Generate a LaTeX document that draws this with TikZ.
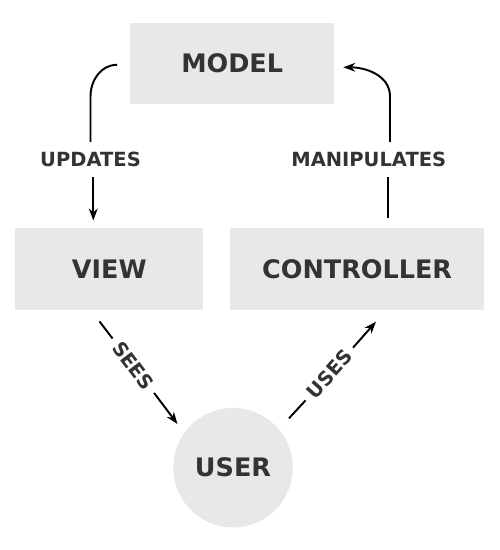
\documentclass[tikz,border=0pt]{standalone}
\usepackage{fontspec}
\setmainfont{DejaVu Sans}
\usepackage{tikz}
\usetikzlibrary{positioning,arrows.meta}
\definecolor{mvcfill}{HTML}{E8E8E8}
\definecolor{mvctext}{HTML}{333333}

\begin{document}
\begin{tikzpicture}[
	part/.style = {rectangle, fill=mvcfill, text=mvctext, inner sep=0pt, minimum height=1.63cm, font=\bfseries\fontsize{14.5}{17}\selectfont},
	verb/.style = {text=mvctext, inner xsep=0.13cm, inner ysep=0.2cm, font=\bfseries\fontsize{11.1}{13}\selectfont},
	link/.style = {line width=1.1pt, black},
	tip/.style = {-{Stealth[length=6.8pt, width=5pt]}}
]
\useasboundingbox (0,0) rectangle (10,11);

		\node[part, minimum width=4.09cm] (model) at (4.644,9.734){MODEL};
		\node[part, minimum width=3.76cm] (view) at (2.186,5.622){VIEW};
		\node[part, minimum width=5.09cm] (controller) at (7.143,5.622){CONTROLLER};
		\node[part, circle, minimum size=2.39cm] (user) at (4.66,1.646){USER};

		\node[verb] (updates) at (1.81,7.806){UPDATES};
		\node[verb] (manip) at (7.376,7.806){MANIPULATES};
		\node[verb, rotate=-52.7] (sees) at (2.666,3.686){SEES};
		\node[verb, rotate=48] (uses) at (6.586,3.52){USES};

		\coordinate (seesfrom) at (1.99,4.57);
		\coordinate (seesto) at (3.55,2.52);
		\coordinate (usesfrom) at (5.78,2.634);
		\coordinate (usesto) at (7.52,4.566);

\draw[link] ([xshift=-0.25cm,yshift=-0.03cm]model.west) to[out=180,in=90] ([yshift=0.91cm]updates.north) -- (updates.north);
\draw[link, tip] ([xshift=0.056cm]updates.south) -- ([xshift=0.056cm,yshift=0.146cm]updates.south |- view.north);

\draw[link] ([xshift=0.39cm,yshift=0.2cm]manip.south |- controller.north) -- ([xshift=0.39cm]manip.south);
\draw[link, tip] ([xshift=0.424cm]manip.north) -- ++(0,0.91) to[out=90,in=0] ([xshift=0.17cm,yshift=-0.08cm]model.east);

\draw[link] (seesfrom) -- (sees.west);
\draw[link, tip] (sees.east) -- (seesto);

\draw[link] (usesfrom) -- (uses.west);
\draw[link, tip] (uses.east) -- (usesto);

\end{tikzpicture}
\end{document}
